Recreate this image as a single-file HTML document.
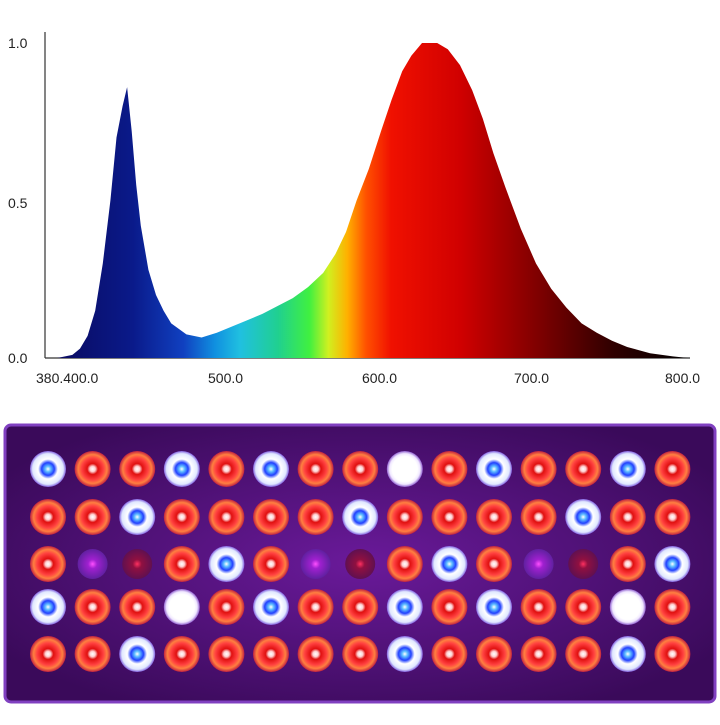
<!DOCTYPE html>
<html><head><meta charset="utf-8"><style>
html,body{margin:0;padding:0;background:#fff;}
svg text{font-family:"Liberation Sans",sans-serif;font-size:14px;fill:#222;}
</style></head><body>
<svg id="s" width="720" height="720" viewBox="0 0 720 720" xmlns="http://www.w3.org/2000/svg">
<defs>
<linearGradient id="spec" x1="0" x2="1" y1="0" y2="0">
<stop offset="0" stop-color="#0a0a60"/>
<stop offset="0.12" stop-color="#0a1a8a"/>
<stop offset="0.2" stop-color="#1040c0"/>
<stop offset="0.25" stop-color="#1090e0"/>
<stop offset="0.29" stop-color="#20c0e0"/>
<stop offset="0.35" stop-color="#20d090"/>
<stop offset="0.40" stop-color="#40f040"/>
<stop offset="0.43" stop-color="#d0f020"/>
<stop offset="0.46" stop-color="#ffb000"/>
<stop offset="0.49" stop-color="#ff5000"/>
<stop offset="0.53" stop-color="#f01000"/>
<stop offset="0.64" stop-color="#d00000"/>
<stop offset="0.76" stop-color="#800000"/>
<stop offset="0.88" stop-color="#300000"/>
<stop offset="1" stop-color="#000"/>
</linearGradient>
<radialGradient id="panel" cx="0.5" cy="0.5" r="0.6">
<stop offset="0" stop-color="#6a1a9a"/><stop offset="1" stop-color="#3a0a5a"/>
</radialGradient>
<radialGradient id="gr"><stop offset="0" stop-color="#fff"/><stop offset="0.15" stop-color="#ffd0d0"/><stop offset="0.3" stop-color="#e01010"/><stop offset="0.6" stop-color="#ff4040"/><stop offset="0.8" stop-color="#ff8040"/><stop offset="1" stop-color="#c02040"/></radialGradient>
<radialGradient id="gb"><stop offset="0" stop-color="#fff"/><stop offset="0.15" stop-color="#60c0ff"/><stop offset="0.35" stop-color="#2040ff"/><stop offset="0.55" stop-color="#ffffff"/><stop offset="0.85" stop-color="#e0e8ff"/><stop offset="1" stop-color="#8060e0"/></radialGradient>
<radialGradient id="gw"><stop offset="0" stop-color="#fff"/><stop offset="0.7" stop-color="#fff"/><stop offset="0.85" stop-color="#f0e8ff"/><stop offset="1" stop-color="#9060d0"/></radialGradient>
<radialGradient id="gu"><stop offset="0" stop-color="#ff50ff"/><stop offset="0.3" stop-color="#a020d0"/><stop offset="1" stop-color="#6020a0"/></radialGradient>
<radialGradient id="gd"><stop offset="0" stop-color="#ff3060"/><stop offset="0.3" stop-color="#901040"/><stop offset="1" stop-color="#601050"/></radialGradient>
</defs>
<line x1="45" y1="32" x2="45" y2="358" stroke="#333" stroke-width="1.2"/>
<line x1="45" y1="358" x2="690" y2="358" stroke="#333" stroke-width="1.2"/>
<text x="8" y="48">1.0</text>
<text x="8" y="208">0.5</text>
<text x="8" y="363">0.0</text>
<text x="36" y="383">380.400.0</text>
<text x="208" y="383">500.0</text>
<text x="362" y="383">600.0</text>
<text x="514" y="383">700.0</text>
<text x="665" y="383">800.0</text>
<path id="sp" fill="url(#spec)"/>
<rect x="5" y="425" width="710" height="277" rx="6" fill="url(#panel)" stroke="#8040c0" stroke-width="3"/>
<g id="leds"></g>
</svg>
<script>
var pts=[[385,0],[395,0.01],[400,0.03],[405,0.07],[410,0.15],[415,0.3],[420,0.5],[424,0.7],[428,0.8],[431,0.86],[434,0.72],[437,0.55],[440,0.42],[445,0.28],[450,0.2],[455,0.15],[460,0.11],[470,0.075],[480,0.065],[490,0.08],[500,0.1],[510,0.12],[520,0.14],[530,0.165],[540,0.19],[550,0.225],[560,0.27],[568,0.33],[575,0.4],[582,0.5],[590,0.6],[598,0.72],[605,0.82],[612,0.91],[618,0.96],[625,1.0],[635,1.0],[642,0.98],[650,0.93],[658,0.85],[665,0.76],[672,0.65],[680,0.54],[690,0.41],[700,0.3],[710,0.22],[720,0.16],[730,0.11],[740,0.08],[750,0.055],[760,0.035],[775,0.015],[790,0.005],[800,0]];
var d="";pts.forEach(function(p,i){var x=80+(p[0]-400)*1.52,y=358-p[1]*315;d+=(i?"L":"M")+x.toFixed(1)+","+y.toFixed(1);});
d+="Z";document.getElementById("sp").setAttribute("d",d);
var rows=["brrbrbrrwrbrrbr","rrbrrrrbrrrrbrr","rudrbrudrbrudrb","brrwrbrrbrbrrwr","rrbrrrrrbrrrrbr"];
var ys=[469,517,564,607,654];var ns="http://www.w3.org/2000/svg";var L=document.getElementById("leds");
var map={r:"gr",b:"gb",w:"gw",u:"gu",d:"gd"};
rows.forEach(function(r,ri){for(var c=0;c<15;c++){var ch=r[c];var x=48+c*44.6;var e=document.createElementNS(ns,"circle");e.setAttribute("cx",x);e.setAttribute("cy",ys[ri]);e.setAttribute("r",(ch=="u"||ch=="d")?15:18);e.setAttribute("fill","url(#"+map[ch]+")");L.appendChild(e);}});
</script>
</body></html>
